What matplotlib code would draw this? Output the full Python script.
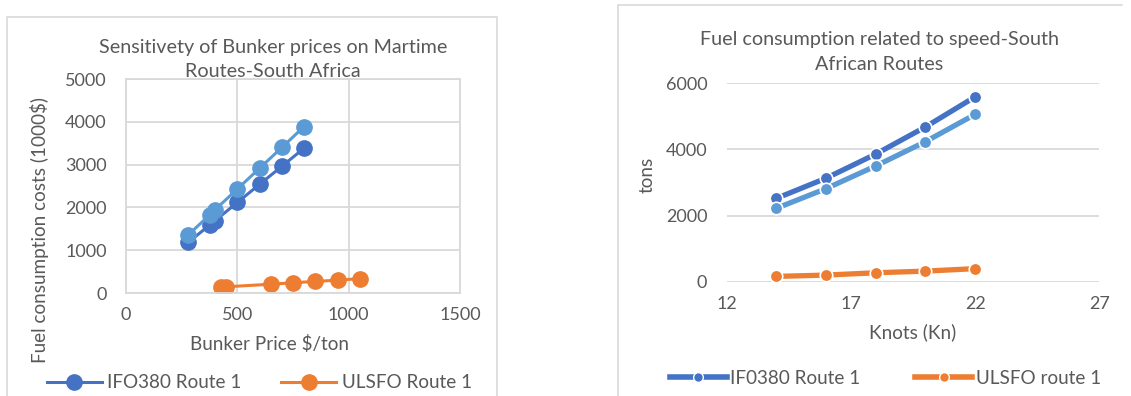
import matplotlib.pyplot as plt
from matplotlib.lines import Line2D

W, H = 1131, 396

# left chart: bunker price sensitivity
ifo_price = [280, 375, 400, 500, 600, 700, 800]
ifo_cost_1 = [1185, 1585, 1690, 2115, 2540, 2960, 3385]
ifo_cost_2 = [1360, 1820, 1945, 2430, 2915, 3400, 3890]
ulsfo_price = [425, 450, 650, 750, 850, 950, 1050]
ulsfo_cost = [135, 145, 205, 240, 270, 300, 335]

# right chart: consumption vs speed
speed = [14, 16, 18, 20, 22]
ifo_tons_1 = [2520, 3130, 3860, 4680, 5590]
ifo_tons_2 = [2220, 2815, 3500, 4235, 5060]
ulsfo_tons = [160, 200, 270, 320, 395]

DARK_BLUE = "#4472C4"
LIGHT_BLUE = "#5B9BD5"
ORANGE = "#ED7D31"
GRID = "#D9D9D9"
TEXT = "#595959"
FS = 13
FS_TITLE = 14.2
FS_LABEL = 13.6

plt.rcParams["font.family"] = ["Lato", "DejaVu Sans"]


def box(x0, y0, x1, y1):
    # pixel box (top-left origin) -> figure fraction rect
    return [x0 / W, 1 - y1 / H, (x1 - x0) / W, (y1 - y0) / H]


def fx(x):
    return x / W


def fy(y):
    return 1 - y / H


fig = plt.figure(figsize=(W / 100, H / 100), dpi=100)

# chart frames
for xs, ys in [([7, 7, 497, 497], [400, 17, 17, 400]), ([617.5, 617.5, 1122], [400, 5, 5])]:
    fig.add_artist(Line2D([fx(v) for v in xs], [fy(v) for v in ys], color=GRID, linewidth=1.2))

# ---- left chart
ax = fig.add_axes(box(126, 79, 460, 293))
ax.plot(ifo_price, ifo_cost_1, color=DARK_BLUE, linewidth=2.2, marker="o", markersize=11, label="IFO380 Route 1")
ax.plot(ifo_price, ifo_cost_2, color=LIGHT_BLUE, linewidth=2.2, marker="o", markersize=11)
ax.plot(ulsfo_price, ulsfo_cost, color=ORANGE, linewidth=2.2, marker="o", markersize=11, label="ULSFO Route 1")
ax.set_xlim(0, 1500)
ax.set_ylim(0, 5000)
ax.set_xticks([0, 500, 1000, 1500])
ax.set_yticks(range(0, 5001, 1000))
ax.grid(True, color=GRID, linewidth=1.3)
ax.set_axisbelow(True)
for s in ax.spines.values():
    s.set_color(GRID)
    s.set_linewidth(1.3)
ax.tick_params(length=0, labelsize=FS, labelcolor=TEXT)
ax.tick_params(axis="y", pad=14)
ax.tick_params(axis="x", pad=10)
fig.text(fx(273), fy(59.5), "Sensitivety of Bunker prices on Martime\nRoutes-South Africa",
         ha="center", va="center", fontsize=FS_TITLE, color=TEXT, linespacing=1.55)
fig.text(fx(40), fy(230), "Fuel consumption costs (1000$)", rotation=90,
         ha="center", va="center", fontsize=FS_LABEL, color=TEXT)
fig.text(fx(269), fy(344), "Bunker Price $/ton", ha="center", va="center", fontsize=FS_LABEL, color=TEXT)
fig.legend(handles=[ax.lines[0], ax.lines[2]], loc="center left", bbox_to_anchor=(fx(47), fy(383)),
           ncol=2, frameon=False, fontsize=FS_LABEL, labelcolor=TEXT, handlelength=2.9,
           handletextpad=0.3, columnspacing=2.1, borderaxespad=0, borderpad=0)

# ---- right chart
ax2 = fig.add_axes(box(726.7, 83.3, 1099.3, 281.7))
kw = dict(linewidth=3.8, marker="o", markersize=9, markeredgecolor="white", markeredgewidth=1.2)
ax2.plot(speed, ifo_tons_1, color=DARK_BLUE, label="IF0380 Route 1", **kw)
ax2.plot(speed, ifo_tons_2, color=LIGHT_BLUE, **kw)
ax2.plot(speed, ulsfo_tons, color=ORANGE, label="ULSFO route 1", **kw)
ax2.set_xlim(12, 27)
ax2.set_ylim(0, 6000)
ax2.set_xticks([12, 17, 22, 27])
ax2.set_yticks([0, 2000, 4000, 6000])
ax2.grid(True, axis="y", color=GRID, linewidth=1.3)
ax2.set_axisbelow(True)
for s in ax2.spines.values():
    s.set_visible(False)
ax2.tick_params(length=0, labelsize=FS, labelcolor=TEXT)
ax2.tick_params(axis="y", pad=14)
ax2.tick_params(axis="x", pad=10)
fig.text(fx(879), fy(52), "Fuel consumption related to speed-South\nAfrican Routes",
         ha="center", va="center", fontsize=FS_TITLE, color=TEXT, linespacing=1.55)
fig.text(fx(647), fy(175), "tons", rotation=90, ha="center", va="center", fontsize=FS_LABEL, color=TEXT)
fig.text(fx(913), fy(332), "Knots (Kn)", ha="center", va="center", fontsize=FS_LABEL, color=TEXT)
h1 = Line2D([], [], color=DARK_BLUE, linewidth=4, marker="o", markersize=7, markeredgecolor="white", markeredgewidth=1)
h3 = Line2D([], [], color=ORANGE, linewidth=4, marker="o", markersize=7, markeredgecolor="white", markeredgewidth=1)
fig.legend(handles=[h1, h3], labels=["IF0380 Route 1", "ULSFO route 1"], loc="center left",
           bbox_to_anchor=(fx(670), fy(378)), ncol=2, frameon=False, fontsize=FS_LABEL, labelcolor=TEXT,
           handlelength=3.0, handletextpad=0.2, columnspacing=2.9, borderaxespad=0, borderpad=0)

fig.savefig("out.png", dpi=100)
